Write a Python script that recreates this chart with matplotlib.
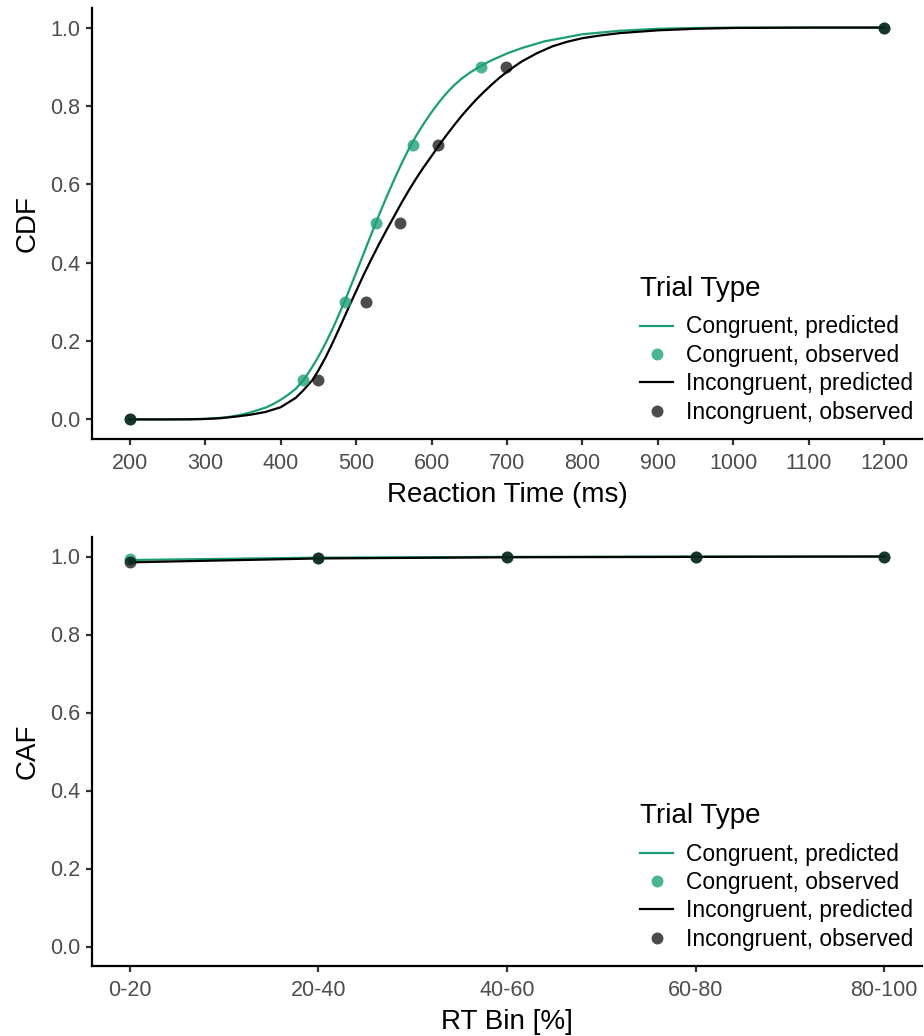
import matplotlib
matplotlib.use("Agg")
import matplotlib.pyplot as plt
from matplotlib.ticker import FormatStrFormatter

plt.rcParams['font.family'] = ['Liberation Sans', 'DejaVu Sans']

# ---------------- data ----------------
# CDF panel: observed quantiles
cdf_probs = [0.0, 0.1, 0.3, 0.5, 0.7, 0.9, 1.0]
cong_obs_rt = [200, 430, 485, 527, 575, 666, 1200]
incong_obs_rt = [200, 450, 513, 558, 608, 699, 1200]

# CDF panel: predicted curves
cong_pred_rt = [200, 250, 280, 300, 320, 330, 340, 350, 360, 370, 380, 390, 400, 410, 420,
                430, 440, 450, 460, 470, 480, 485, 490, 500, 510, 520, 527, 530, 540, 550,
                560, 570, 580, 590, 600, 610, 620, 630, 640, 650, 660, 670, 680, 700, 720,
                750, 800, 850, 900, 950, 1000, 1100, 1200]
cong_pred_cdf = [0.0, 0.0, 0.0005, 0.0015, 0.004, 0.006, 0.009, 0.013, 0.018, 0.024, 0.030,
                 0.039, 0.050, 0.063, 0.078, 0.100, 0.128, 0.160, 0.196, 0.236, 0.280, 0.302,
                 0.326, 0.374, 0.423, 0.472, 0.506, 0.520, 0.566, 0.610, 0.652, 0.691, 0.725,
                 0.756, 0.784, 0.810, 0.833, 0.853, 0.870, 0.884, 0.896, 0.907, 0.917, 0.934,
                 0.948, 0.965, 0.983, 0.992, 0.997, 0.999, 1.0, 1.0, 1.0]
incong_pred_rt = [200, 250, 280, 300, 320, 340, 360, 380, 400, 420, 430, 442, 450, 460, 470,
                  480, 490, 494, 500, 510, 520, 530, 540, 546, 550, 560, 570, 580, 590, 600,
                  610, 620, 630, 640, 650, 660, 670, 680, 690, 700, 710, 720, 740, 760, 780,
                  800, 824, 850, 900, 950, 1000, 1100, 1200]
incong_pred_cdf = [0.0, 0.0, 0.0003, 0.001, 0.003, 0.007, 0.012, 0.019, 0.031, 0.055, 0.074,
                   0.100, 0.125, 0.160, 0.200, 0.242, 0.285, 0.302, 0.327, 0.369, 0.408, 0.446,
                   0.482, 0.503, 0.517, 0.552, 0.585, 0.616, 0.645, 0.672, 0.700, 0.726, 0.751,
                   0.775, 0.797, 0.818, 0.837, 0.855, 0.872, 0.887, 0.901, 0.914, 0.935, 0.952,
                   0.964, 0.973, 0.980, 0.986, 0.993, 0.997, 0.999, 1.0, 1.0]

# CAF panel
bins = ['0-20', '20-40', '40-60', '60-80', '80-100']
cong_caf_obs = [0.993, 0.997, 0.999, 0.999, 1.0]
incong_caf_obs = [0.985, 0.997, 0.999, 0.999, 1.0]
cong_caf_pred = [0.991, 0.997, 0.999, 1.0, 1.0]
incong_caf_pred = [0.985, 0.995, 0.998, 0.999, 1.0]

labels = ['Congruent, predicted', 'Congruent, observed',
          'Incongruent, predicted', 'Incongruent, observed']

# ---------------- style ----------------
GREEN = '#1b9e77'
LINE_W = 1.6
MS = 8.6
TICK_COLOR = '#4d4d4d'

W, H = 924, 1036
fig = plt.figure(figsize=(W / 100, H / 100), dpi=100)

def axes_px(left, top, right, bottom):
    return fig.add_axes([left / W, 1 - bottom / H, (right - left) / W, (bottom - top) / H])

ax1 = axes_px(92, 8, 922, 439)
ax2 = axes_px(92, 537, 922, 966)


def style(ax):
    for s in ['top', 'right']:
        ax.spines[s].set_visible(False)
    for s in ['left', 'bottom']:
        ax.spines[s].set_linewidth(1.6)
        ax.spines[s].set_color('black')
    ax.tick_params(axis='both', length=4.5, width=1.6, color='#333333',
                   labelsize=15.5, labelcolor=TICK_COLOR)
    ax.tick_params(axis='x', pad=5.5)
    ax.tick_params(axis='y', pad=4)
    ax.set_ylim(-0.05, 1.05)
    ax.set_yticks([0.0, 0.2, 0.4, 0.6, 0.8, 1.0])
    ax.yaxis.set_major_formatter(FormatStrFormatter('%.1f'))


def draw(ax, x_cp, y_cp, x_co, y_co, x_ip, y_ip, x_io, y_io):
    h1, = ax.plot(x_cp, y_cp, color=GREEN, lw=LINE_W, zorder=2)
    h3, = ax.plot(x_ip, y_ip, color='black', lw=LINE_W, zorder=2)
    h2, = ax.plot(x_co, y_co, 'o', color=GREEN, alpha=0.78, ms=MS, mew=0, zorder=3)
    h4, = ax.plot(x_io, y_io, 'o', color='black', alpha=0.7, ms=MS, mew=0, zorder=4)
    leg = ax.legend([h1, h2, h3, h4], labels, title='Trial Type', loc='lower right',
                    bbox_to_anchor=(1.0, 6 / 431), frameon=False, fontsize=16.4,
                    title_fontsize=20, handlelength=1.45, handletextpad=0.55,
                    labelspacing=0.24, borderaxespad=0.0, alignment='left')
    leg._legend_box.sep = 10


# Top: CDF
style(ax1)
draw(ax1, cong_pred_rt, cong_pred_cdf, cong_obs_rt, cdf_probs,
     incong_pred_rt, incong_pred_cdf, incong_obs_rt, cdf_probs)
ax1.set_xlim(150, 1250)
ax1.set_xticks(list(range(200, 1201, 100)))
ax1.set_xlabel('Reaction Time (ms)', fontsize=20, labelpad=6)
ax1.set_ylabel('CDF', fontsize=20, labelpad=7)

# Bottom: CAF
style(ax2)
pos = list(range(1, len(bins) + 1))
draw(ax2, pos, cong_caf_pred, pos, cong_caf_obs, pos, incong_caf_pred, pos, incong_caf_obs)
ax2.set_xlim(0.8, 5.2)
ax2.set_xticks(pos)
ax2.set_xticklabels(bins)
ax2.set_xlabel('RT Bin [%]', fontsize=20, labelpad=6)
ax2.set_ylabel('CAF', fontsize=20, labelpad=7)

fig.savefig('out.png', dpi=100, facecolor='white')
